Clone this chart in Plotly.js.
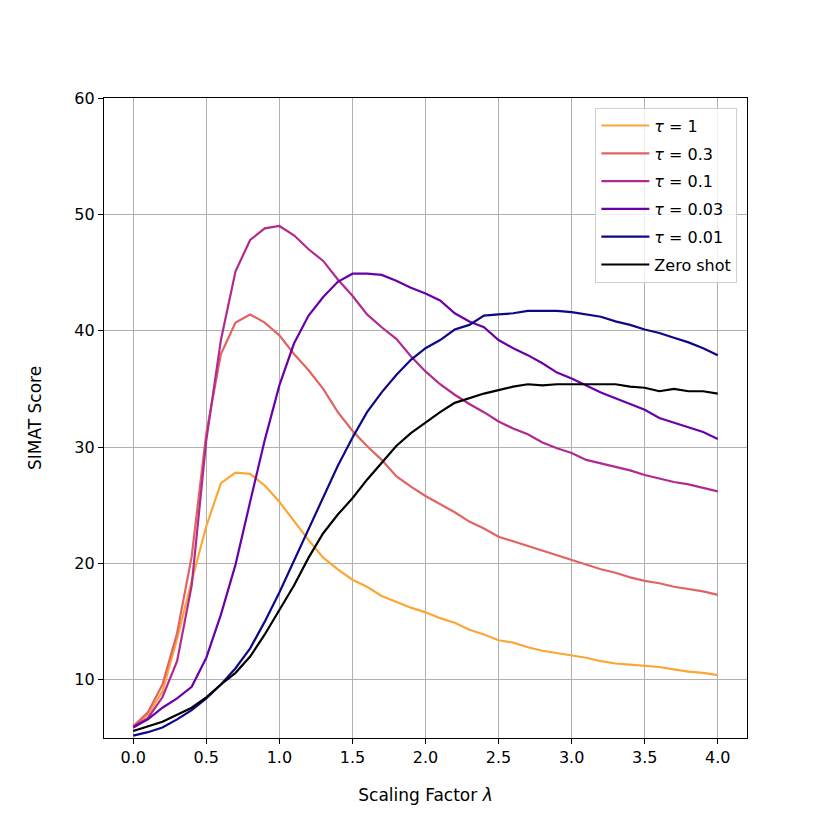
<!DOCTYPE html>
<html>
<head>
<meta charset="utf-8">
<script src="https://cdn.plot.ly/plotly-3.0.1.min.js"></script>
<style>body{margin:0;background:#fff}</style>
</head>
<body>
<div id="plot" style="width:830px;height:830px"></div>
<script>
var lambdas = [0.0,0.1,0.2,0.3,0.4,0.5,0.6,0.7,0.8,0.9,1.0,1.1,1.2,1.3,1.4,1.5,1.6,1.7,1.8,1.9,2.0,
               2.1,2.2,2.3,2.4,2.5,2.6,2.7,2.8,2.9,3.0,3.1,3.2,3.3,3.4,3.5,3.6,3.7,3.8,3.9,4.0];

var tau1 = [6.0,7.0,9.0,13.5,18.5,23.2,26.9,27.8,27.7,26.7,25.3,23.6,22.0,20.5,19.5,18.6,18.0,17.2,16.7,16.2,15.8,
            15.3,14.9,14.3,13.9,13.4,13.2,12.8,12.5,12.3,12.1,11.9,11.6,11.4,11.3,11.2,11.1,10.9,10.7,10.6,10.4];
var tau03 = [6.0,7.2,9.6,14.0,20.6,31.2,38.0,40.7,41.4,40.7,39.6,38.0,36.6,35.0,33.0,31.4,30.1,28.9,27.5,26.6,25.8,
             25.1,24.4,23.6,23.0,22.3,21.9,21.5,21.1,20.7,20.3,19.9,19.5,19.2,18.8,18.5,18.3,18.0,17.8,17.6,17.3];
var tau01 = [6.0,6.7,8.5,11.6,18.1,30.6,39.2,45.1,47.8,48.8,49.0,48.2,47.0,46.0,44.4,43.0,41.4,40.3,39.3,37.8,36.5,
             35.4,34.5,33.7,33.0,32.2,31.6,31.1,30.4,29.9,29.5,28.9,28.6,28.3,28.0,27.6,27.3,27.0,26.8,26.5,26.2];
var tau003 = [5.9,6.6,7.6,8.4,9.4,11.9,15.6,19.9,25.3,30.6,35.3,38.9,41.3,42.9,44.2,44.9,44.9,44.8,44.3,43.7,43.2,
              42.6,41.5,40.8,40.3,39.2,38.5,37.9,37.2,36.4,35.9,35.3,34.7,34.2,33.7,33.2,32.5,32.1,31.7,31.3,30.7];
var tau001 = [5.2,5.5,5.9,6.6,7.4,8.4,9.6,11.0,12.7,15.0,17.5,20.2,23.0,25.7,28.4,30.8,33.0,34.7,36.2,37.5,38.5,
              39.2,40.1,40.5,41.3,41.4,41.5,41.7,41.7,41.7,41.6,41.4,41.2,40.8,40.5,40.1,39.8,39.4,39.0,38.5,37.9];
var zeroShot = [5.6,6.0,6.4,7.0,7.6,8.5,9.6,10.6,12.0,13.9,16.0,18.1,20.5,22.6,24.2,25.6,27.2,28.7,30.1,31.2,32.1,
                33.0,33.8,34.2,34.6,34.9,35.2,35.4,35.3,35.4,35.4,35.4,35.4,35.4,35.2,35.1,34.8,35.0,34.8,34.8,34.6];

var names = ['<i>τ</i> = 1','<i>τ</i> = 0.3','<i>τ</i> = 0.1','<i>τ</i> = 0.03','<i>τ</i> = 0.01','Zero shot'];
var series = [tau1, tau03, tau01, tau003, tau001, zeroShot];
var colors = ['#fca636','#e16462','#b12a90','#6a00a8','#0d0887','#000000'];

var traces = series.map(function(ys, i) {
  return {
    type: 'scatter',
    mode: 'lines',
    name: names[i],
    legendgroup: 'g' + i,
    x: lambdas,
    y: ys,
    line: {color: colors[i], width: 2.2}
  };
});

var axisCommon = {
  showline: true,
  linecolor: '#000',
  linewidth: 1.2,
  mirror: true,
  ticks: 'outside',
  ticklen: 5,
  tickwidth: 1.2,
  tickcolor: '#000',
  showgrid: true,
  gridcolor: '#b0b0b0',
  gridwidth: 1.2,
  zeroline: false,
  tickfont: {size: 16, color: '#000'}
};

var layout = {
  width: 830,
  height: 830,
  margin: {l: 104, r: 83, t: 98, b: 92},
  paper_bgcolor: '#fff',
  plot_bgcolor: '#fff',
  font: {family: 'DejaVu Sans', color: '#000'},
  showlegend: true,
  legend: {
    x: 0.985, y: 0.985, xanchor: 'right', yanchor: 'top',
    bordercolor: '#d0d0d0', borderwidth: 1, bgcolor: 'rgba(255,255,255,0.8)',
    font: {size: 16, color: '#000'},
    itemwidth: 48,
    tracegroupgap: 4
  },
  xaxis: Object.assign({}, axisCommon, {
    range: [-0.2, 4.2],
    tickvals: [0,0.5,1,1.5,2,2.5,3,3.5,4],
    tickformat: '.1f',
    title: {text: 'Scaling Factor <i>λ</i>', font: {size: 17, color: '#000'}, standoff: 22}
  }),
  yaxis: Object.assign({}, axisCommon, {
    range: [5, 60],
    tickvals: [10,20,30,40,50,60],
    title: {text: 'SIMAT Score', font: {size: 17, color: '#000'}, standoff: 28}
  })
};

Plotly.newPlot('plot', traces, layout, {displayModeBar: false});
</script>
</body>
</html>
